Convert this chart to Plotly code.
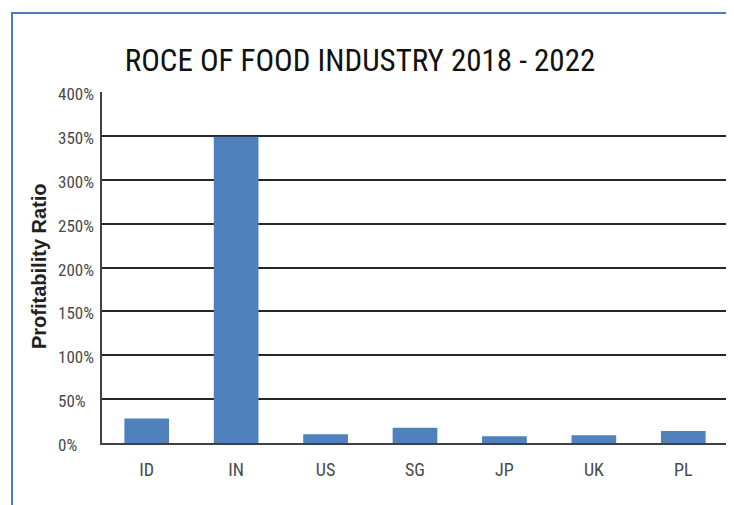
import plotly.graph_objects as go

categories = ["ID", "IN", "US", "SG", "JP", "UK", "PL"]
roce = [0.28, 3.49, 0.10, 0.175, 0.077, 0.088, 0.138]
y_ticks = [0, 0.5, 1.0, 1.5, 2.0, 2.5, 3.0, 3.5, 4.0]
y_tick_labels = ["0%", "50%", "100%", "150%", "200%", "250%", "300%", "350%", "400%"]

# page has an 8px body margin; work in figure pixels
OFF = 8
W, H = 734 - OFF, 505 - OFF
L, T = 102 - OFF, 92 - OFF
R = W - (728 - OFF)
B = H - (443 - OFF)
pw, ph = W - L - R, H - T - B

def px(x):
    return (x - OFF - L) / pw

def py(y):
    return (H - B - (y - OFF)) / ph

narrow = "Roboto Condensed, Liberation Sans Narrow, Arial Narrow, DejaVu Sans Condensed, Liberation Sans, sans-serif"

fig = go.Figure(go.Bar(
    x=categories, y=roce,
    marker=dict(color="#4f81bd", line=dict(width=0)),
))

annotations = [dict(text="<b>Profitability Ratio</b>", textangle=-90,
                    xref="paper", yref="paper", x=px(39), y=py(266),
                    xanchor="center", yanchor="middle", showarrow=False,
                    font=dict(family="Liberation Sans, Arial, sans-serif", size=20, color="#222222"))]
for v, lab in zip(y_ticks, y_tick_labels):
    annotations.append(dict(text=lab, xref="paper", yref="y", x=px(56), y=v,
                            xanchor="left", yanchor="middle", yshift=-2, showarrow=False,
                            font=dict(family=narrow, size=17, color="#4a4a4a")))

fig.update_layout(
    width=W, height=H,
    margin=dict(l=L, r=R, t=T, b=B),
    paper_bgcolor="white", plot_bgcolor="white",
    bargap=0.5,
    showlegend=False,
    title=dict(text="ROCE OF FOOD INDUSTRY 2018 - 2022", x=px(360), xref="paper",
               xanchor="center", y=1 - (60 - OFF) / H, yanchor="middle",
               font=dict(family=narrow, size=31, color="#111111")),
    xaxis=dict(showline=True, linecolor="#404040", linewidth=2, showgrid=False,
               ticks="", tickfont=dict(family=narrow, size=18, color="#4a4a4a"),
               ticklabelstandoff=9),
    yaxis=dict(range=[0, 4], tickvals=y_ticks, showticklabels=False,
               showgrid=True, gridcolor="#262626", gridwidth=1.5,
               showline=True, linecolor="#404040", linewidth=1.5, zeroline=False,
               ticks=""),
    annotations=annotations,
    shapes=[
        dict(type="line", xref="paper", yref="paper", x0=1, x1=1, y0=0, y1=1,
             line=dict(color="#d0d0d0", width=1.5)),
        dict(type="line", xref="paper", yref="paper", x0=px(12), x1=px(740),
             y0=py(13), y1=py(13), line=dict(color="#4a7ebb", width=2)),
        dict(type="line", xref="paper", yref="paper", x0=px(12), x1=px(12),
             y0=py(12), y1=py(520), line=dict(color="#4a7ebb", width=2)),
    ],
)

fig.write_html("out.html")
